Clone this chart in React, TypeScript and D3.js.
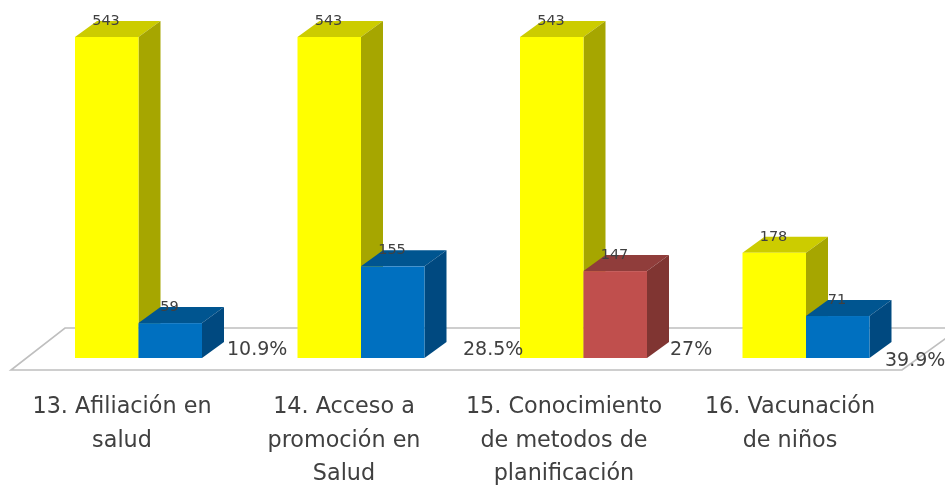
import React from "react";
import * as d3 from "d3";

const categories = ["13", "14", "15", "16"];
const yellowValues = [543, 543, 543, 178];
const secondValues = [59, 155, 147, 71];
const secondColors = ["#0070c0", "#0070c0", "#c0504d", "#0070c0"];
const secondTops = ["#005490", "#005490", "#903c3a", "#005490"];
const secondSides = ["#004a80", "#004a80", "#803533", "#004a80"];
const percentLabels = ["10.9%", "28.5%", "27%", "39.9%"];
const percentX = [227, 463, 670, 885];
const percentY = [355, 355, 355, 366];
const categoryCenters = [122, 344, 564, 790];
const categoryLines = [
  ["13. Afiliación en", "salud"],
  ["14. Acceso a", "promoción en", "Salud"],
  ["15. Conocimiento", "de metodos de", "planificación"],
  ["16. Vacunación", "de niños"],
];

const W = 945, H = 485;
const baseY = 358, dx = 22, dy = 16;
const x = d3.scaleBand<string>().domain(categories).range([75, 965]).paddingInner(0).paddingOuter(0);
const y = d3.scaleLinear().domain([0, 543]).range([baseY, 37]);
const barW = 63.5;
const FONT = "'DejaVu Sans', sans-serif";

function Bar3D({ x0, v, front, top, side }: { x0: number; v: number; front: string; top: string; side: string }) {
  const t = y(v), x1 = x0 + barW;
  const poly = (pts: [number, number][]) => d3.line()(pts) + "Z";
  return (
    <g>
      <path d={poly([[x0, t], [x0 + dx, t - dy], [x1 + dx, t - dy], [x1, t]])} fill={top} />
      <path d={poly([[x1, t], [x1 + dx, t - dy], [x1 + dx, baseY - dy], [x1, baseY]])} fill={side} />
      <rect x={x0} y={t} width={barW} height={baseY - t} fill={front} />
    </g>
  );
}

export default function App() {
  const floor = d3.line()([[65, 328], [960, 328], [902, 370], [11, 370]]) + "Z";
  return (
    <svg width={W} height={H} viewBox={`0 0 ${W} ${H}`} style={{ position: "absolute", left: 0, top: 0, background: "#fff" }}>
      <defs>
        <filter id="soft" x="-5%" y="-5%" width="110%" height="110%">
          <feGaussianBlur stdDeviation="0.55" />
        </filter>
      </defs>
      <g filter="url(#soft)">
        <path d={floor} fill="#fff" stroke="#bfbfbf" strokeWidth={1.6} />
        {categories.map((c, i) => {
          const x0 = x(c)!;
          return (
            <g key={c}>
              <Bar3D x0={x0} v={yellowValues[i]} front="#ffff00" top="#cccc00" side="#a6a600" />
              <Bar3D x0={x0 + barW} v={secondValues[i]} front={secondColors[i]} top={secondTops[i]} side={secondSides[i]} />
            </g>
          );
        })}
        <g fontFamily={FONT} fill="#404040">
          {categories.map((c, i) => {
            const x0 = x(c)!;
            return (
              <g key={c}>
                <text x={x0 + 31} y={y(yellowValues[i]) - 12} fontSize={14.5} textAnchor="middle">{yellowValues[i]}</text>
                <text x={x0 + barW + 31} y={y(secondValues[i]) - 12} fontSize={14.5} textAnchor="middle">{secondValues[i]}</text>
                <text x={percentX[i]} y={percentY[i]} fontSize={19}>{percentLabels[i]}</text>
                {categoryLines[i].map((l, j) => (
                  <text key={j} x={categoryCenters[i]} y={413 + j * 33.5} fontSize={22.3} textAnchor="middle">{l}</text>
                ))}
              </g>
            );
          })}
        </g>
      </g>
    </svg>
  );
}
